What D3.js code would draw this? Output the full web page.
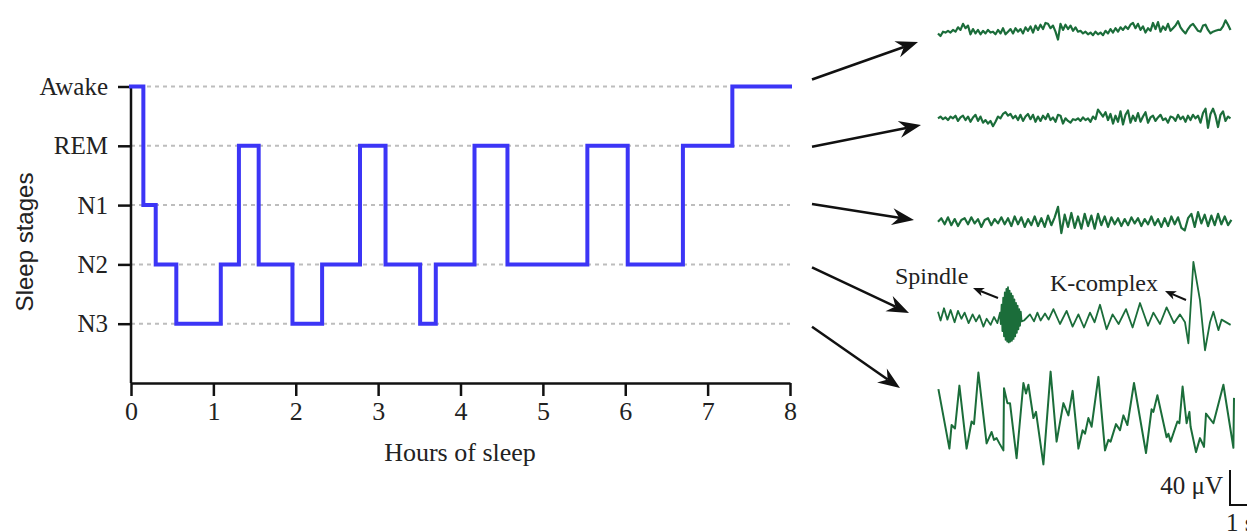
<!DOCTYPE html>
<html>
<head>
<meta charset="utf-8">
<script src="https://cdn.jsdelivr.net/npm/d3@7"></script>
<style>
  html, body { margin: 0; padding: 0; background: #ffffff; }
  svg { display: block; }
</style>
</head>
<body>
<svg id="chart" width="1247" height="532"></svg>
<script>
// ---------------- DATA ----------------
const stageNames = ["Awake", "REM", "N1", "N2", "N3"];
const hourTicks = [0, 1, 2, 3, 4, 5, 6, 7, 8];

// hypnogram: stage entered at each time (hours)
const hypTimes  = [0, 0.15, 0.30, 0.55, 1.09, 1.31, 1.55, 1.96, 2.32, 2.78, 3.09, 3.51, 3.70, 4.17, 4.57, 5.54, 6.03, 6.70, 7.30, 8.0];
const hypStages = ["Awake","N1","N2","N3","N2","REM","N2","N3","N2","REM","N2","N3","N2","REM","N2","REM","N2","REM","Awake","Awake"];

// EEG examples (µV); uniformly sampled traces
const awakeStep = 0.125; // s
const eegAwake = [-2,-5,0,-1,1,-1,2,0,5,2,9,4,7,-3,3,-2,2,-3,1,-2,2,-1,0,-3,2,-2,4,-3,0,3,-2,4,0,3,-2,5,1,6,-1,7,2,8,3,10,9,4,7,0,-9,9,2,8,3,7,1,5,0,1,-2,0,-3,-1,-4,0,-3,-1,-4,1,-2,3,-1,4,0,5,2,6,3,8,10,4,9,2,6,-1,4,1,10,3,11,0,6,2,9,1,4,7,12,5,1,-2,3,7,9,5,1,0,7,8,2,-2,0,1,2,2,6,13,8,2];
const remStep = 0.125; // s
const eegREM = [0,2,-1,1,-2,2,0,3,-3,1,3,-2,2,-4,1,4,-3,2,-5,-2,-6,-3,-9,-4,2,0,5,7,3,5,0,3,-2,4,-3,2,5,-1,4,-4,2,-3,3,-1,5,-2,1,-4,4,3,-6,0,-3,-5,-1,-2,0,-3,1,-2,0,-4,2,-1,10,6,2,7,-2,5,-6,3,-4,8,-7,4,9,-5,3,-3,6,-4,2,7,-5,1,3,-3,1,4,-2,0,-5,2,1,-3,4,-1,2,-4,3,-2,4,0,3,-5,6,11,-11,5,11,3,-10,4,8,-3,2,0];
const n1Step = 0.1667; // s
const eegN1 = [0,4,-3,5,-4,3,-5,2,4,-3,5,-2,3,-6,2,4,-4,3,-2,5,-3,4,-5,6,-3,5,-6,3,-4,6,-5,4,-6,7,-4,5,17,-13,8,-6,10,-7,6,-8,9,-5,7,-8,9,-4,6,-6,5,-3,4,-5,3,-4,5,-2,4,-5,3,-3,6,-4,3,-6,4,-5,6,-3,5,-7,-10,4,9,-6,11,-2,8,-5,7,-4,9,-3,6,-4,2];

// N2 with spindle and K-complex: time (s) / amplitude (µV)
const eegN2T = [0,0.13,0.3,0.47,0.63,0.83,1.0,1.17,1.33,1.53,1.73,1.9,2.07,2.27,2.43,2.63,2.8,2.97,
  3.10,3.14,3.18,3.22,3.26,3.30,3.34,3.38,3.42,3.46,3.50,3.54,3.58,3.62,3.66,3.70,3.74,3.78,3.82,3.86,3.90,3.94,3.98,4.02,4.06,4.10,4.14,4.18,4.3,
  4.6,4.8,4.97,5.13,5.35,5.53,5.77,6.1,6.43,6.73,7.02,7.3,7.6,7.83,8.1,8.43,8.73,9.03,9.4,9.73,10.1,10.5,10.77,11.1,11.43,11.8,12.1,12.35,12.52,12.77,13.1,13.35,13.6,13.77,14.02,14.18,14.63];
const eegN2V = [6,-4,10,-3,8,-6,7,-2,5,-7,3,-5,2,-11,-2,-9,0,-7,
  5,-8,14,-16,22,-22,28,-26,32,-28,34,-29,30,-28,27,-27,24,-25,20,-22,16,-18,13,-14,9,-10,6,-5,-4,
  3,-5,5,-4,4,-3,9,-8,7,-11,3,-12,5,-6,14,-14,3,-8,9,-12,16,-10,5,-8,11,-7,3,-6,-30,63,19,-38,-6,6,-15,-3,-9];

// N3 slow waves: time (s) / amplitude (µV)
const eegN3T = [0.02,0.57,0.68,0.85,1.07,1.43,1.68,1.8,2.02,2.43,2.68,2.8,2.93,3.07,3.27,3.3,3.47,3.6,3.93,4.27,4.4,4.52,4.77,4.9,5.27,5.63,5.93,6.27,6.52,6.73,7.02,7.23,7.35,7.52,7.68,8.02,8.35,8.52,8.63,8.9,9.1,9.27,9.47,9.8,10.4,10.68,10.77,10.97,11.43,11.52,11.63,11.97,12.07,12.23,12.43,12.57,12.63,12.9,13.1,13.3,13.4,13.77,14.27,14.77,14.8];
const eegN3V = [33,-35,-8,-12,37,-35,-4,-7,52,-29,-16,-25,-23,-29,-37,34,17,17,-46,40,28,38,0,7,-53,53,-27,17,3,31,-35,-14,-18,0,-10,47,-37,-25,-27,-7,-14,3,-8,40,-40,10,7,26,-22,-18,-27,-4,-6,36,-6,7,-10,-39,-23,-33,5,-6,38,-34,23];

// ---------------- LAYOUT ----------------
const svg = d3.select("#chart");
const serif = "'Liberation Serif', 'Times New Roman', serif";
const sans = "'Liberation Sans', Arial, sans-serif";

const x = d3.scaleLinear().domain([0, 8]).range([131, 790]);
const y = d3.scaleLinear().domain([0, 5]).range([86.5, 383]);
const stageIndex = s => stageNames.indexOf(s);

// gridlines
svg.append("g").selectAll("line").data(stageNames).join("line")
  .attr("x1", x(0)).attr("x2", x(8))
  .attr("y1", d => y(stageIndex(d))).attr("y2", d => y(stageIndex(d)))
  .attr("stroke", "#bdbdbd").attr("stroke-width", 2).attr("stroke-dasharray", "4,4");

// x axis
const xAxis = svg.append("g").attr("transform", `translate(0,${y(5)})`)
  .call(d3.axisBottom(x).tickValues(hourTicks).tickFormat(d3.format("d")).tickSize(13).tickSizeOuter(0).tickPadding(6));
// y axis
const yAxis = svg.append("g").attr("transform", `translate(${x(0)},0)`)
  .call(d3.axisLeft(y).tickValues([0,1,2,3,4]).tickFormat(i => stageNames[i]).tickSize(13).tickSizeOuter(0).tickPadding(10));
[xAxis, yAxis].forEach(g => {
  g.select(".domain").attr("stroke", "#111").attr("stroke-width", 2.5);
  g.selectAll(".tick line").attr("stroke", "#111").attr("stroke-width", 2.5);
  g.selectAll("text").attr("fill", "#222").style("font-family", serif);
});
xAxis.selectAll("text").style("font-size", "26px");
yAxis.selectAll("text").style("font-size", "25px");
yAxis.select(".domain").attr("d", `M0,${y(0)}V${y(5)}`);

// axis titles
svg.append("text").attr("x", 460).attr("y", 461).attr("text-anchor", "middle")
  .style("font-family", serif).style("font-size", "26px").attr("fill", "#222").text("Hours of sleep");
svg.append("text").attr("transform", "translate(33,242) rotate(-90)").attr("text-anchor", "middle")
  .style("font-family", sans).style("font-size", "24px").attr("fill", "#222").text("Sleep stages");

// hypnogram
const hypData = hypTimes.map((t, i) => ({ t, s: stageIndex(hypStages[i]) }));
svg.append("path").datum(hypData)
  .attr("d", d3.line().x(d => x(d.t)).y(d => y(d.s)).curve(d3.curveStepAfter))
  .attr("fill", "none").attr("stroke", "#3c35f6").attr("stroke-width", 4)
  .attr("stroke-linejoin", "miter").attr("stroke-linecap", "square");

// ---------------- EEG TRACES ----------------
const tx = d3.scaleLinear().domain([0, 15]).range([938, 1238]);
const amp = d3.scaleLinear().domain([0, 40]).range([0, -35]);
const green = "#1b6d3a";

function drawTrace(ts, vs, base, width) {
  const pts = ts.map((t, i) => [t, vs[i]]);
  svg.append("path").datum(pts)
    .attr("d", d3.line().x(d => tx(d[0])).y(d => base + amp(d[1])))
    .attr("fill", "none").attr("stroke", green).attr("stroke-width", width || 2)
    .attr("stroke-linejoin", "round");
}
const uniformTimes = (arr, dt) => arr.map((_, i) => i * dt);

drawTrace(uniformTimes(eegAwake, awakeStep), eegAwake, 31.7, 2.2);
drawTrace(uniformTimes(eegREM, remStep), eegREM, 118.3, 2.2);
drawTrace(uniformTimes(eegN1, n1Step), eegN1, 221.7, 2.2);
drawTrace(eegN2T, eegN2V, 317, 1.8);
drawTrace(eegN3T, eegN3V, 418, 2);

// ---------------- ARROWS ----------------
function arrow(x1, y1, x2, y2, len, half, notch, sw) {
  const dx = x2 - x1, dy = y2 - y1, L = Math.hypot(dx, dy);
  const ux = dx / L, uy = dy / L, px = -uy, py = ux;
  const bx = x2 - ux * len, by = y2 - uy * len;
  const nx = x2 - ux * notch, ny = y2 - uy * notch;
  svg.append("line").attr("x1", x1).attr("y1", y1).attr("x2", nx).attr("y2", ny)
    .attr("stroke", "#111").attr("stroke-width", sw);
  svg.append("path")
    .attr("d", `M${x2},${y2}L${bx + px * half},${by + py * half}L${nx},${ny}L${bx - px * half},${by - py * half}Z`)
    .attr("fill", "#111");
}
const arrowEnds = [[918, 42], [921, 125], [914, 220], [909, 313], [900, 388]];
const arrowStartDy = [-7, 1, -1, 3, 3];
stageNames.forEach((s, i) => {
  arrow(812, y(i) + arrowStartDy[i], arrowEnds[i][0], arrowEnds[i][1], 22, 8.5, 15, 2.5);
});

// annotations
svg.append("text").attr("x", 895).attr("y", 284).style("font-family", serif).style("font-size", "24px")
  .attr("fill", "#222").text("Spindle");
arrow(998, 298, 973, 288, 11, 4.5, 8, 2);
svg.append("text").attr("x", 1050).attr("y", 291).style("font-family", serif).style("font-size", "24px")
  .attr("fill", "#222").text("K-complex");
arrow(1186, 300, 1165, 291, 11, 4.5, 8, 2);

// scale bar
const sbX = 1230, sbY = 505;
svg.append("path")
  .attr("d", `M${sbX},${sbY + amp(40)}V${sbY}H${sbX + (tx(1) - tx(0))}`)
  .attr("fill", "none").attr("stroke", "#111").attr("stroke-width", 2);
svg.append("text").attr("x", 1223).attr("y", 494).attr("text-anchor", "end")
  .style("font-family", serif).style("font-size", "25px").attr("fill", "#222").text("40 μV");
svg.append("text").attr("x", 1226).attr("y", 531)
  .style("font-family", serif).style("font-size", "25px").attr("fill", "#222").text("1 s");
</script>
</body>
</html>
